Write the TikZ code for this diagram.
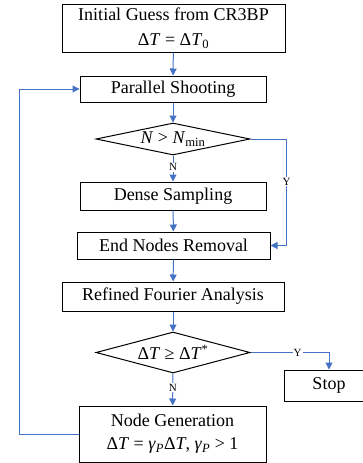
\documentclass[tikz,border=0pt]{standalone}
\usepackage{fontspec}
\setmainfont{Liberation Serif}
\usetikzlibrary{arrows.meta, shapes, calc, positioning}
\definecolor{flowblue}{RGB}{68,114,196}
\newcommand{\dT}{Δ\textit{T}}
\newcommand{\gP}{\textit{γ}\textsubscript{\textit{P}}}
\tikzset{
	every node/.style={
		font=\fontsize{18}{23}\selectfont
	},
	box/.style={
		shape=rectangle,
		draw,
		line width=1pt,
		inner sep=0pt,
		align=center
	},
	choice/.style={
		shape=diamond,
		draw,
		line width=1pt,
		inner sep=0pt,
		minimum width=154pt
	},
	flow/.style={
		draw=flowblue,
		line width=1pt,
		-{Triangle[length=7pt,width=7pt]}
	},
	branch/.style={
		font=\fontsize{11}{12}\selectfont,
		fill=white,
		inner sep=1pt
	}
}

\begin{document}
\begin{tikzpicture}[x=1pt, y=1pt]
	\useasboundingbox (0,0) rectangle (363,-463);
	
	\node[box, minimum width=223pt, minimum height=48pt, font=\fontsize{18}{25}\selectfont] (init) at (173.5,-28) {Initial Guess from CR3BP\\\dT{} = \dT\textsubscript{0}};
	\node[box, minimum width=186pt, minimum height=26pt] (shoot) at (173,-89) {Parallel Shooting};
	\node[choice, aspect=4.8, minimum height=32pt] (nmin) at (173,-139) {\textit{N} > \textit{N}\textsubscript{min}};
	\node[box, minimum width=186pt, minimum height=28pt] (dense) at (173,-196) {Dense Sampling};
	\node[box, minimum width=193pt, minimum height=27pt] (remove) at (173.5,-245.5) {End Nodes Removal};
	\node[box, minimum width=222pt, minimum height=29pt] (fourier) at (173,-296.5) {Refined Fourier Analysis};
	\node[choice, aspect=3.75, minimum height=41pt] (dtcheck) at (173,-352.5) {\dT{} ≥ \dT\textsuperscript{*}};
	\node[box, minimum width=90pt, minimum height=31pt] (stop) at (329,-385.5) {Stop};
	\node[box, minimum width=187pt, minimum height=56pt] (gen) at (172.5,-434) {Node Generation\\\dT{} = \gP\dT, \gP{} > 1};
	
	\draw[flow] (init) -- (shoot);
	\draw[flow] (shoot) -- (nmin);
	\draw[flow] (nmin) -- node[branch, pos=0.45] {N} (dense);
	\draw[flow] (dense) -- (remove);
	\draw[flow] (nmin.east) -- ++(36,0) |- node[branch, pos=0.2] {Y} (remove.east);
	\draw[flow] (remove) -- (fourier);
	\draw[flow] (fourier) -- (dtcheck);
	\draw[flow] (dtcheck.east) -| node[branch, pos=0.3] {Y} (stop.north);
	\draw[flow] (dtcheck) -- node[branch, pos=0.45] {N} (gen);
	\draw[flow] (gen.west) -- ++(-59,0) |- (shoot.west);
\end{tikzpicture}
\end{document}
